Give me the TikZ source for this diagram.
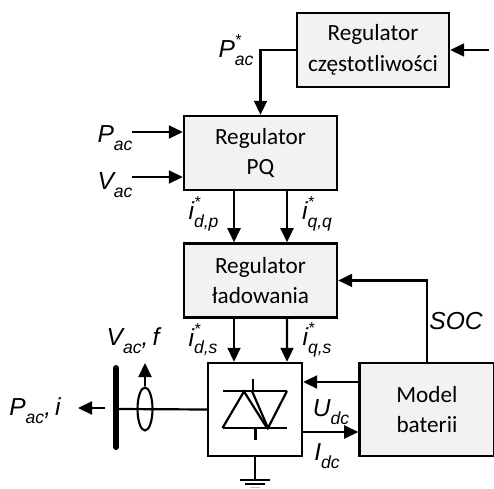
\documentclass[tikz,border=0pt]{standalone}
\usepackage{fontspec}
\setmainfont{Carlito}
\newfontfamily\lblfont{Liberation Sans}
\usepackage{tikz}
\usetikzlibrary{positioning}
\usetikzlibrary{arrows.meta}
\usetikzlibrary{shapes.geometric}

\definecolor{boxgray}{HTML}{F2F2F2}
\newcommand{\lblmain}{\lblfont\itshape\fontsize{14}{15}\selectfont}
\newcommand{\sublbl}[3]{{\lblmain #1\rlap{\raisebox{6.5pt}{\fontsize{9}{9}\selectfont #3}}\raisebox{-4.5pt}{\fontsize{10}{10}\selectfont #2}}}
\tikzset{
  regbox/.style={rectangle, draw, line width=1.4pt, fill=boxgray, minimum width=3.06cm, minimum height=1.48cm, align=center, font=\fontsize{13.2}{17.3}\selectfont, inner sep=0pt},
  wire/.style={line width=1.25pt},
  lbl/.style={inner sep=0pt}
}

\begin{document}
\begin{tikzpicture}[>={Triangle[length=0.28cm, width=0.26cm]}]
        \useasboundingbox (0, 0) rectangle (9.88, 9.76);

        \node[regbox, minimum width=3.04cm] (regFreq) at (7.46, 8.76) {Regulator\\częstotliwości};
        \node[regbox] (regPQ) at (5.21, 6.70) {Regulator\\PQ};
        \node[regbox] (regLad) [below = 1.02cm of regPQ] {Regulator\\ładowania};
        \node[regbox, fill=white, minimum width=1.88cm, minimum height=1.86cm] (conv) at (5.10, 1.57) {};
        \node[regbox, minimum width=2.70cm, minimum height=1.86cm] (model) [right = 1.10cm of conv] {Model\\baterii};

        \coordinate (inFreq) at (9.78, 8.76);
        \coordinate (inP) at (2.64, 7.12);
        \coordinate (inV) at (2.64, 6.22);
        \coordinate (busTop) at (2.32, 2.40);
        \coordinate (busBot) at (2.32, 0.82);
        \coordinate (busMid) at (2.32, 1.58);
        \coordinate (outP) at (2.10, 1.60);
        \coordinate (outTip) at (1.56, 1.60);
        \node[ellipse, draw, line width=1.2pt, minimum width=0.30cm, minimum height=0.86cm, inner sep=0pt] (sensor) at (2.90, 1.58) {};
        \coordinate (sensorUp) at (2.90, 2.50);
        \coordinate (gnd) at (5.10, 0.16);

        \draw (inFreq) edge[wire, ->] (regFreq.east);
        \draw[wire, ->] (regFreq.west) -| (regPQ.north);
        \draw (inP) edge[wire, ->] (inP -| regPQ.west);
        \draw (inV) edge[wire, ->] (inV -| regPQ.west);
        \draw ([xshift=-0.53cm]regPQ.south) edge[wire, ->] ([xshift=-0.53cm]regLad.north);
        \draw ([xshift=0.53cm]regPQ.south) edge[wire, ->] ([xshift=0.53cm]regLad.north);
        \draw ([xshift=-0.53cm]regLad.south) edge[wire, ->] ([xshift=-0.42cm]conv.north);
        \draw ([xshift=0.53cm]regLad.south) edge[wire, ->] ([xshift=0.64cm]conv.north);
        \draw[wire, ->] (model.north) |- (regLad.east);
        \draw ([yshift=0.55cm]model.west) edge[wire, ->] ([yshift=0.55cm]conv.east);
        \draw ([yshift=-0.45cm]conv.east) edge[wire, ->] ([yshift=-0.45cm]model.west);
        \draw[wire] (conv.west) -- (busMid);
        \draw[line width=3.4pt, line cap=round] (busTop) -- (busBot);
        \draw (sensor.north) edge[wire, ->] (sensorUp);
        \draw (outP) edge[wire, ->] (outTip);

        % triac
        \draw[wire] (4.45, 1.94) -- (5.74, 1.94);
        \draw[wire] (4.45, 1.20) -- (5.74, 1.20);
        \draw[wire] (4.45, 1.20) -- (4.88, 1.93) -- (5.34, 1.20);
        \draw[wire] (5.04, 1.94) -- (5.36, 1.20) -- (5.74, 1.94);
        \draw[wire] (5.06, 2.18) -- (5.06, 1.94);
        \draw[wire] (5.11, 1.20) -- (5.11, 0.96);

        % ground
        \draw[wire] (conv.south) -- (gnd);
        \draw[wire] (4.80, 0.16) -- (5.40, 0.16);
        \draw[wire] (4.90, 0.08) -- (5.30, 0.08);
        \draw[line width=0.8pt, gray!50] (5.00, 0.01) -- (5.20, 0.01);

        \node[lbl] at (4.72, 8.76) {\sublbl{P}{ac}{*}};
        \node[lbl] at (2.30, 7.00) {\sublbl{P}{ac}{}};
        \node[lbl] at (2.30, 6.06) {\sublbl{V}{ac}{}};
        \node[lbl] at (4.07, 5.48) {\sublbl{i}{d,p}{*}};
        \node[lbl] at (6.34, 5.48) {\sublbl{i}{q,q}{*}};
        \node[lbl] at (4.06, 2.96) {\sublbl{i}{d,s}{*}};
        \node[lbl] at (6.34, 2.96) {\sublbl{i}{q,s}{*}};
        \node[lbl] at (2.66, 2.94) {\sublbl{V}{ac}{}{\lblmain ,\,f}};
        \node[lbl] at (0.70, 1.54) {\sublbl{P}{ac}{}{\lblmain ,\,i}};
        \node[lbl, font=\lblmain] at (9.12, 3.34) {SOC};
        \node[lbl] at (6.62, 1.52) {\sublbl{U}{dc}{}};
        \node[lbl] at (6.54, 0.64) {\sublbl{I}{dc}{}};
      \end{tikzpicture}
\end{document}
